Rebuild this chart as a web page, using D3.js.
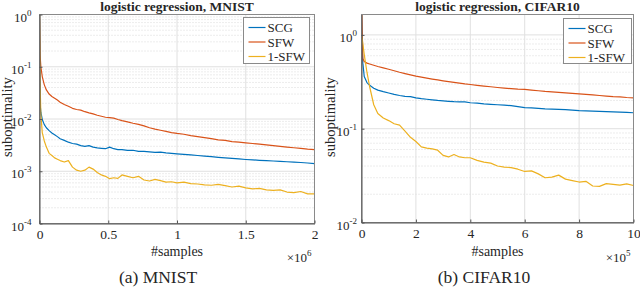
<!DOCTYPE html>
<html>
<head>
<meta charset="utf-8">
<script src="https://cdn.jsdelivr.net/npm/d3@7"></script>
<style>
  body { margin: 0; background: #fff; }
  svg text { font-family: "Liberation Serif", "Times New Roman", serif; fill: #262626; }
</style>
</head>
<body>
<svg id="fig" width="640" height="289" font-family="Liberation Serif, serif"></svg>
<script>
// legend / colours (MATLAB default order)
const seriesNames = ["SCG", "SFW", "1-SFW"];
const seriesColors = ["#0072bd", "#d95319", "#edb120"];

// MNIST, x in units of 1e6 samples
const mnistX = [0, 0.004, 0.01, 0.02, 0.035, 0.05, 0.07, 0.09, 0.11, 0.13,
  0.15, 0.18, 0.21, 0.24, 0.27, 0.30, 0.33, 0.36, 0.39, 0.42,
  0.45, 0.48, 0.51, 0.54, 0.57, 0.60, 0.64, 0.68, 0.72, 0.76,
  0.80, 0.84, 0.88, 0.92, 0.96, 1.00, 1.05, 1.10, 1.15, 1.20,
  1.25, 1.30, 1.35, 1.40, 1.45, 1.50, 1.55, 1.60, 1.65, 1.70,
  1.75, 1.80, 1.85, 1.90, 1.95, 2.00];
const mnistSCG = [1.0, 0.020, 0.0135, 0.0098, 0.0078, 0.0068, 0.0060, 0.0054, 0.0050, 0.0046,
  0.0042, 0.0039, 0.0036, 0.0034, 0.0033, 0.0031, 0.0030, 0.0031, 0.0029, 0.0028,
  0.00275, 0.0027, 0.0029, 0.0027, 0.0026, 0.0026, 0.0025, 0.00252, 0.0024, 0.0024,
  0.00235, 0.0023, 0.00232, 0.00225, 0.0022, 0.00215, 0.0021, 0.00205, 0.0020, 0.00195,
  0.0019, 0.00185, 0.0018, 0.00176, 0.00172, 0.00168, 0.00165, 0.00162, 0.0016, 0.00157,
  0.00155, 0.00152, 0.0015, 0.00147, 0.00144, 0.0014];
const mnistSFW = [1.0, 0.17, 0.10, 0.065, 0.045, 0.036, 0.030, 0.027, 0.025, 0.023,
  0.021, 0.019, 0.0175, 0.016, 0.0152, 0.0148, 0.0138, 0.0131, 0.0125, 0.0118,
  0.0113, 0.0108, 0.0106, 0.0104, 0.0098, 0.0093, 0.0088, 0.0083, 0.0079, 0.0074,
  0.0068, 0.0064, 0.0061, 0.0058, 0.0055, 0.0053, 0.0051, 0.0048, 0.0046, 0.0044,
  0.0042, 0.0040, 0.0039, 0.0037, 0.0036, 0.0035, 0.0034, 0.0033, 0.0032, 0.0031,
  0.0030, 0.0029, 0.00282, 0.00274, 0.00266, 0.0026];
const mnist1SFW = [1.0, 0.05, 0.012, 0.0055, 0.0038, 0.0029, 0.0022, 0.0020, 0.0018, 0.0017,
  0.0016, 0.0015, 0.0016, 0.0012, 0.00105, 0.0010, 0.00105, 0.0012, 0.0011, 0.00095,
  0.00085, 0.0008, 0.00072, 0.00075, 0.00073, 0.00085, 0.0008, 0.00075, 0.0008, 0.00068,
  0.00065, 0.0007, 0.00066, 0.00062, 0.00063, 0.0006, 0.00062, 0.00058, 0.00057, 0.00055,
  0.00054, 0.00056, 0.00053, 0.0005, 0.00052, 0.00048, 0.00046, 0.00047, 0.00044, 0.00043,
  0.00044, 0.0004, 0.00039, 0.00041, 0.00037, 0.00037];

// CIFAR10, x in units of 1e5 samples
const cifarX = [0, 0.05, 0.1, 0.2, 0.3, 0.45, 0.6, 0.8,
  1.0, 1.2, 1.4, 1.6, 1.8, 2.0, 2.2, 2.4, 2.6, 2.8,
  3.0, 3.2, 3.4, 3.6, 3.8, 4.0, 4.25, 4.5, 4.75,
  5.0, 5.25, 5.5, 5.75, 6.0, 6.25, 6.5, 6.75,
  7.0, 7.25, 7.5, 7.75, 8.0, 8.25, 8.5, 8.75,
  9.0, 9.25, 9.5, 9.75, 10];
const cifarSCG = [1.0, 0.5, 0.36, 0.31, 0.29, 0.27, 0.258, 0.248,
  0.24, 0.232, 0.226, 0.221, 0.22, 0.213, 0.209, 0.206, 0.203, 0.2,
  0.198, 0.196, 0.194, 0.193, 0.193, 0.189, 0.187, 0.184, 0.182,
  0.18, 0.178, 0.176, 0.172, 0.168, 0.167, 0.165, 0.163,
  0.162, 0.161, 0.16, 0.158, 0.156, 0.155, 0.154, 0.153,
  0.152, 0.151, 0.15, 0.149, 0.148];
const cifarSFW = [2.5, 0.56, 0.52, 0.50, 0.49, 0.475, 0.46, 0.445,
  0.43, 0.415, 0.40, 0.387, 0.375, 0.363, 0.354, 0.346, 0.338, 0.331,
  0.324, 0.318, 0.312, 0.306, 0.30, 0.296, 0.29, 0.285, 0.28,
  0.275, 0.271, 0.267, 0.264, 0.262, 0.258, 0.254, 0.25,
  0.247, 0.244, 0.241, 0.238, 0.235, 0.232, 0.229, 0.226,
  0.223, 0.22, 0.218, 0.215, 0.213];
const cifar1SFW = [1.0, 0.8, 0.62, 0.40, 0.28, 0.18, 0.145, 0.13,
  0.122, 0.113, 0.109, 0.094, 0.081, 0.073, 0.064, 0.062, 0.061, 0.059,
  0.052, 0.05, 0.053, 0.05, 0.049, 0.049, 0.046, 0.044, 0.043,
  0.040, 0.039, 0.0385, 0.037, 0.035, 0.0355, 0.033, 0.030,
  0.0305, 0.032, 0.029, 0.028, 0.027, 0.0275, 0.0245, 0.0243,
  0.026, 0.0255, 0.025, 0.0258, 0.0248];

const mnistXTicks = [0, 0.5, 1, 1.5, 2];
const cifarXTicks = [0, 2, 4, 6, 8, 10];
const mnistYExp = [-4, -3, -2, -1, 0];
const cifarYExp = [-2, -1, 0];

const svg = d3.select("#fig");

function drawPanel(p) {
  const g = svg.append("g");
  const x = d3.scaleLinear().domain(p.xDomain).range([p.left, p.right]);
  const y = d3.scaleLog().domain(p.yDomain).range([p.bottom, p.top]);

  // minor log grid (dotted)
  const minor = [];
  p.yExp.forEach(e => {
    for (let k = 2; k <= 9; k++) {
      const v = k * Math.pow(10, e);
      if (v > p.yDomain[0] && v < p.yDomain[1]) minor.push(v);
    }
  });
  g.selectAll(".minor").data(minor).join("line")
    .attr("x1", p.left).attr("x2", p.right)
    .attr("y1", d => y(d)).attr("y2", d => y(d))
    .attr("stroke", "#d0d0d0").attr("stroke-width", 0.8)
    .attr("stroke-dasharray", "1,2");

  // major grid
  g.selectAll(".hgrid").data(p.yExp.map(e => Math.pow(10, e))).join("line")
    .attr("x1", p.left).attr("x2", p.right)
    .attr("y1", d => y(d)).attr("y2", d => y(d))
    .attr("stroke", "#e0e0e0").attr("stroke-width", 1);
  g.selectAll(".vgrid").data(p.xTicks).join("line")
    .attr("x1", d => x(d)).attr("x2", d => x(d))
    .attr("y1", p.top).attr("y2", p.bottom)
    .attr("stroke", "#e0e0e0").attr("stroke-width", 1);

  // curves
  const clipId = "clip" + p.id;
  svg.append("clipPath").attr("id", clipId).append("rect")
    .attr("x", p.left).attr("y", p.top)
    .attr("width", p.right - p.left).attr("height", p.bottom - p.top);
  const line = d3.line().x(d => x(d[0])).y(d => y(d[1]));
  const plot = g.append("g").attr("clip-path", `url(#${clipId})`);
  p.series.forEach((s, i) => {
    plot.append("path")
      .datum(p.xs.map((xv, j) => [xv, s[j]]))
      .attr("d", line)
      .attr("fill", "none")
      .attr("stroke", seriesColors[i])
      .attr("stroke-width", 1.2)
      .attr("stroke-linejoin", "round");
  });

  // box
  g.append("rect")
    .attr("x", p.left).attr("y", p.top)
    .attr("width", p.right - p.left).attr("height", p.bottom - p.top)
    .attr("fill", "none").attr("stroke", "#8a8a8a").attr("stroke-width", 1);

  // x axis
  const xAxis = d3.axisBottom(x).tickValues(p.xTicks).tickSize(-3)
    .tickSizeOuter(0).tickPadding(6).tickFormat(d => d);
  const gx = g.append("g").attr("transform", `translate(0,${p.bottom})`).call(xAxis)
    .attr("font-family", null);
  gx.select(".domain").attr("stroke", "#555");
  gx.selectAll(".tick line").attr("stroke", "#555");
  gx.selectAll("text").attr("font-size", 13.5).attr("fill", "#262626");

  // y axis, labels as 10^e
  const yAxis = d3.axisLeft(y).tickValues(p.yExp.map(e => Math.pow(10, e)))
    .tickSize(-3).tickSizeOuter(0).tickFormat("");
  const gy = g.append("g").attr("transform", `translate(${p.left},0)`).call(yAxis);
  gy.select(".domain").attr("stroke", "#555");
  gy.selectAll(".tick line").attr("stroke", "#555");
  p.yExp.forEach(e => {
    const t = g.append("text")
      .attr("x", p.left - p.labelGap).attr("y", y(Math.pow(10, e)) + 7)
      .attr("text-anchor", "end").attr("font-size", 13);
    t.append("tspan").text("10");
    t.append("tspan").attr("dy", -6).attr("font-size", 9).text(e === 0 ? "0" : "-" + (-e));
  });

  // labels
  g.append("text")
    .attr("x", (p.left + p.right) / 2).attr("y", 10.5)
    .attr("text-anchor", "middle").attr("font-size", 13.5).attr("font-weight", "bold")
    .text(p.title);
  g.append("text")
    .attr("transform", `translate(${p.yLabelX},117) rotate(-90)`)
    .attr("text-anchor", "middle").attr("font-size", 14.5)
    .text("suboptimality");
  g.append("text")
    .attr("x", (p.left + p.right) / 2).attr("y", 256)
    .attr("text-anchor", "middle").attr("font-size", 14)
    .text("#samples");
  const ex = g.append("text")
    .attr("x", p.right - 3).attr("y", 262)
    .attr("text-anchor", "end").attr("font-size", 13);
  ex.append("tspan").text("\u00d710");
  ex.append("tspan").attr("dy", -6).attr("font-size", 9).text(p.xExp);
  g.append("text")
    .attr("x", p.captionX).attr("y", 283)
    .attr("text-anchor", "middle").attr("font-size", 17.5)
    .text(p.caption);

  // legend
  const lg = g.append("g");
  lg.append("rect")
    .attr("x", p.legend[0]).attr("y", p.legend[1])
    .attr("width", p.legend[2]).attr("height", p.legend[3])
    .attr("fill", "#fff").attr("stroke", "#8a8a8a").attr("stroke-width", 1);
  seriesNames.forEach((name, i) => {
    const yy = p.legend[1] + 10 + i * 14.5;
    lg.append("line")
      .attr("x1", p.legend[0] + 5).attr("x2", p.legend[0] + 22)
      .attr("y1", yy).attr("y2", yy)
      .attr("stroke", seriesColors[i]).attr("stroke-width", 1.2);
    lg.append("text")
      .attr("x", p.legend[0] + 24).attr("y", yy + 4.5)
      .attr("font-size", 13).text(name);
  });
}

drawPanel({
  id: "a", left: 39.5, right: 314.5, top: 14.5, bottom: 223.5,
  xDomain: [0, 2], yDomain: [1e-4, 1],
  xs: mnistX, series: [mnistSCG, mnistSFW, mnist1SFW],
  xTicks: mnistXTicks, yExp: mnistYExp, labelGap: 8,
  title: "logistic regression, MNIST", xExp: "6",
  yLabelX: 12, caption: "(a) MNIST", captionX: 158,
  legend: [243.5, 17.5, 66, 46]
});
drawPanel({
  id: "b", left: 361.5, right: 633.5, top: 14.5, bottom: 222.5,
  xDomain: [0, 10], yDomain: [0.01, 1.65],
  xs: cifarX, series: [cifarSCG, cifarSFW, cifar1SFW],
  xTicks: cifarXTicks, yExp: cifarYExp, labelGap: 4.5,
  title: "logistic regression, CIFAR10", xExp: "5",
  yLabelX: 335, caption: "(b) CIFAR10", captionX: 484,
  legend: [563.5, 18.5, 68, 45]
});
</script>
</body>
</html>
